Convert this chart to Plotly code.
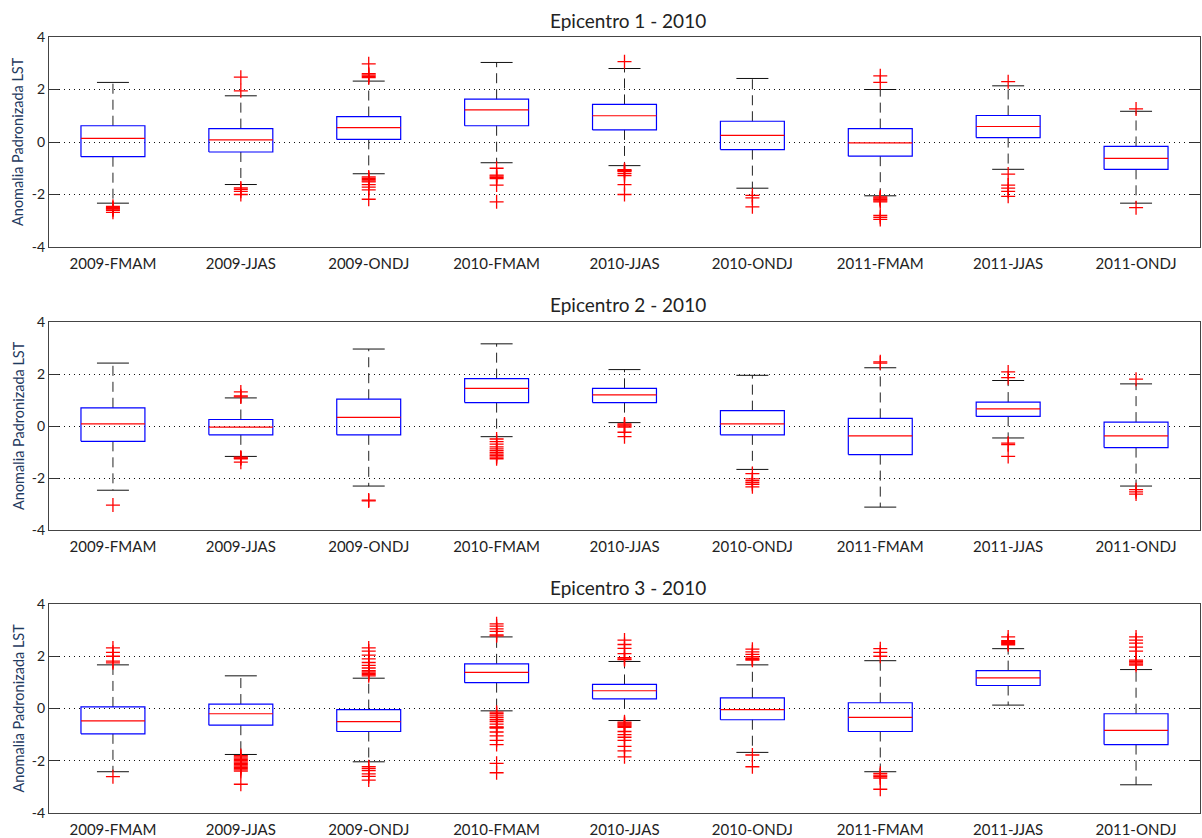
import plotly.graph_objects as go

# Seasonal periods shown on every panel
categories = ["2009-FMAM", "2009-JJAS", "2009-ONDJ", "2010-FMAM", "2010-JJAS",
              "2010-ONDJ", "2011-FMAM", "2011-JJAS", "2011-ONDJ"]
titles = ["Epicentro 1 - 2010", "Epicentro 2 - 2010", "Epicentro 3 - 2010"]
y_ticks = [-4, -2, 0, 2, 4]

# Epicentro 1 box statistics
ep1_upper = [2.27, 1.76, 2.32, 3.03, 2.80, 2.42, 2.00, 2.14, 1.17]
ep1_q3 = [0.62, 0.51, 0.97, 1.63, 1.43, 0.79, 0.51, 1.01, -0.17]
ep1_med = [0.14, 0.08, 0.55, 1.22, 1.00, 0.25, -0.03, 0.59, -0.62]
ep1_q1 = [-0.56, -0.38, 0.10, 0.62, 0.46, -0.29, -0.54, 0.17, -1.04]
ep1_lower = [-2.33, -1.62, -1.21, -0.79, -0.90, -1.76, -2.05, -1.04, -2.33]
ep1_out = [
    [-2.45, -2.5, -2.53, -2.56, -2.6, -2.68],
    [2.47, 1.95, -1.75, -1.8, -1.88, -2.0],
    [2.98, 2.6, 2.55, 2.5, 2.45, -1.33, -1.38, -1.43, -1.48, -1.52, -1.62, -1.72, -1.82, -2.18],
    [-1.0, -1.26, -1.3, -1.35, -1.39, -1.64, -2.28],
    [3.06, -1.05, -1.08, -1.1, -1.12, -1.2, -1.28, -1.62, -2.0],
    [-2.03, -2.13, -2.47],
    [2.52, 2.27, -2.09, -2.13, -2.17, -2.2, -2.24, -2.28, -2.8, -2.87, -2.95],
    [2.3, -1.22, -1.64, -1.76, -1.88, -2.07],
    [1.26, -2.5],
]

# Epicentro 2 box statistics
ep2_upper = [2.42, 1.08, 2.96, 3.16, 2.17, 1.95, 2.24, 1.75, 1.62]
ep2_q3 = [0.70, 0.25, 1.03, 1.82, 1.45, 0.59, 0.29, 0.92, 0.15]
ep2_med = [0.08, -0.04, 0.33, 1.45, 1.20, 0.08, -0.38, 0.66, -0.38]
ep2_q1 = [-0.59, -0.34, -0.34, 0.90, 0.90, -0.34, -1.10, 0.37, -0.83]
ep2_lower = [-2.47, -1.17, -2.31, -0.41, 0.13, -1.67, -3.12, -0.46, -2.31]
ep2_out = [
    [-3.04],
    [1.31, 1.12, 1.16, -1.2, -1.23, -1.26, -1.39],
    [-2.85, -2.88],
    [-0.5, -0.6, -0.7, -0.8, -0.88, -0.95, -1.02, -1.08, -1.14, -1.2, -1.26],
    [0.08, 0.04, 0.0, -0.04, -0.24, -0.41],
    [-1.83, -2.03, -2.1, -2.17, -2.24, -2.34],
    [2.47, 2.42],
    [2.08, 1.86, -0.66, -0.72, -1.17],
    [1.8, -2.45, -2.53, -2.62],
]

# Epicentro 3 box statistics
ep3_upper = [1.67, 1.25, 1.16, 2.74, 1.80, 1.67, 1.83, 2.29, 1.49]
ep3_q3 = [0.06, 0.17, -0.04, 1.71, 0.92, 0.41, 0.22, 1.45, -0.20]
ep3_med = [-0.47, -0.20, -0.50, 1.38, 0.68, -0.04, -0.34, 1.17, -0.84]
ep3_q1 = [-0.97, -0.64, -0.88, 0.99, 0.37, -0.43, -0.88, 0.88, -1.38]
ep3_lower = [-2.42, -1.76, -2.04, -0.09, -0.46, -1.68, -2.42, 0.13, -2.92]
ep3_out = [
    [2.32, 2.15, 2.0, 1.81, 1.75, -2.61],
    [-1.8, -1.85, -1.9, -1.95, -2.0, -2.05, -2.1, -2.15, -2.2, -2.25, -2.3, -2.35, -2.4, -2.9],
    [2.32, 2.2, 2.04, 1.9, 1.76, 1.65, 1.55, 1.45, 1.4, 1.35, 1.3, 1.25,
     -2.23, -2.3, -2.38, -2.5, -2.6, -2.74],
    [3.24, 3.15, 3.05, 2.95, 2.82, 2.78, -0.14, -0.2, -0.28, -0.35, -0.43, -0.5, -0.6,
     -0.7, -0.72, -0.75, -0.9, -1.05, -1.22, -1.38, -2.1, -2.46],
    [2.62, 2.45, 2.3, 2.1, 1.95, 1.9, 1.87, -0.52, -0.56, -0.6, -0.64, -0.68, -0.72,
     -0.88, -1.0, -1.1, -1.22, -1.45, -1.62, -1.85],
    [2.27, 2.17, 2.07, 1.98, 1.92, 1.88, 1.85, -1.78, -2.23],
    [2.29, 2.15, 2.0, -2.48, -2.55, -2.6, -2.66, -3.09],
    [2.74, 2.6, 2.56, 2.52, 2.48, 2.44],
    [2.74, 2.62, 2.5, 2.35, 2.2, 1.85, 1.8, 1.75, 1.7, 1.66],
]

panels = [
    (ep1_upper, ep1_q3, ep1_med, ep1_q1, ep1_lower, ep1_out),
    (ep2_upper, ep2_q3, ep2_med, ep2_q1, ep2_lower, ep2_out),
    (ep3_upper, ep3_q3, ep3_med, ep3_q1, ep3_lower, ep3_out),
]

W, H = 1202, 838
FONT = "Lato, 'Open Sans', sans-serif"
# pixel extents of each axes box (top, bottom); horizontal extent shared
panel_px = [(37, 247), (322, 530), (604, 813)]
x_px = (49, 1200)

BOX_HALF = 0.25
CAP_HALF = 0.125

fig = go.Figure()

for p, (upper, q3, med, q1, lower, outs) in enumerate(panels):
    sfx = "" if p == 0 else str(p + 1)
    xa, ya = "x" + sfx, "y" + sfx
    bx, by, mx, my, wx, wy, cx, cy, ox, oy = ([] for _ in range(10))
    for i in range(len(categories)):
        c = i + 1
        bx += [c - BOX_HALF, c + BOX_HALF, c + BOX_HALF, c - BOX_HALF, c - BOX_HALF, None]
        by += [q1[i], q1[i], q3[i], q3[i], q1[i], None]
        mx += [c - BOX_HALF, c + BOX_HALF, None]
        my += [med[i], med[i], None]
        wx += [c, c, None, c, c, None]
        wy += [q3[i], upper[i], None, q1[i], lower[i], None]
        cx += [c - CAP_HALF, c + CAP_HALF, None, c - CAP_HALF, c + CAP_HALF, None]
        cy += [upper[i], upper[i], None, lower[i], lower[i], None]
        ox += [c] * len(outs[i])
        oy += outs[i]

    fig.add_trace(go.Scatter(x=wx, y=wy, mode="lines", xaxis=xa, yaxis=ya,
                             line=dict(color="#222222", width=1, dash="10px,6px"),
                             hoverinfo="skip", showlegend=False))
    fig.add_trace(go.Scatter(x=cx, y=cy, mode="lines", xaxis=xa, yaxis=ya,
                             line=dict(color="#111111", width=1),
                             hoverinfo="skip", showlegend=False))
    fig.add_trace(go.Scatter(x=bx, y=by, mode="lines", xaxis=xa, yaxis=ya,
                             line=dict(color="#0000ff", width=1.2),
                             hoverinfo="skip", showlegend=False))
    fig.add_trace(go.Scatter(x=mx, y=my, mode="lines", xaxis=xa, yaxis=ya,
                             line=dict(color="#ff0000", width=1.2),
                             hoverinfo="skip", showlegend=False))
    fig.add_trace(go.Scatter(x=ox, y=oy, mode="markers", xaxis=xa, yaxis=ya,
                             marker=dict(symbol="cross-thin", size=10,
                                         line=dict(color="#ff0000", width=1.3)),
                             hoverinfo="skip", showlegend=False))

    top, bot = panel_px[p]
    ydom = [1 - bot / H, 1 - top / H]
    xdom = [x_px[0] / W, x_px[1] / W]

    fig.layout["xaxis" + sfx] = dict(
        domain=xdom, range=[0.5, 9.5], anchor=ya, automargin=False,
        tickmode="array", tickvals=list(range(1, len(categories) + 1)),
        ticktext=categories, ticks="", showgrid=False, zeroline=False,
        ticklabelstandoff=3,
        showline=True, mirror=True, linecolor="#444444", linewidth=1,
        tickfont=dict(family=FONT, size=15, color="#222222"),
    )
    fig.layout["yaxis" + sfx] = dict(
        domain=ydom, range=[-4, 4], anchor=xa, automargin=False,
        tickmode="array", tickvals=y_ticks, ticktext=[str(v) for v in y_ticks],
        ticks="inside", ticklen=10, tickcolor="#333333",
        showgrid=True, griddash="1px,4px", gridcolor="#111111", gridwidth=1,
        zeroline=False, showline=True, mirror="ticks",
        linecolor="#444444", linewidth=1,
        tickfont=dict(family=FONT, size=14, color="#222222"),
    )

    fig.add_annotation(text=titles[p], xref="paper", yref="paper",
                       x=(x_px[0] + x_px[1]) / 2 / W + 3 / W, y=1 - (top - 17) / H,
                       showarrow=False, xanchor="center", yanchor="middle",
                       font=dict(family=FONT, size=19, color="#222222"))
    fig.add_annotation(text="Anomalia Padronizada LST", xref="paper", yref="paper",
                       x=18 / W, y=1 - (top + bot) / 2 / H, textangle=-90,
                       showarrow=False, xanchor="center", yanchor="middle",
                       font=dict(family=FONT, size=14.5, color="#1f3a60"))

fig.update_layout(
    width=W, height=H, autosize=False,
    margin=dict(l=0, r=0, t=0, b=0),
    paper_bgcolor="white", plot_bgcolor="white",
    showlegend=False,
)

fig.write_html("out.html", config={"displayModeBar": False})
